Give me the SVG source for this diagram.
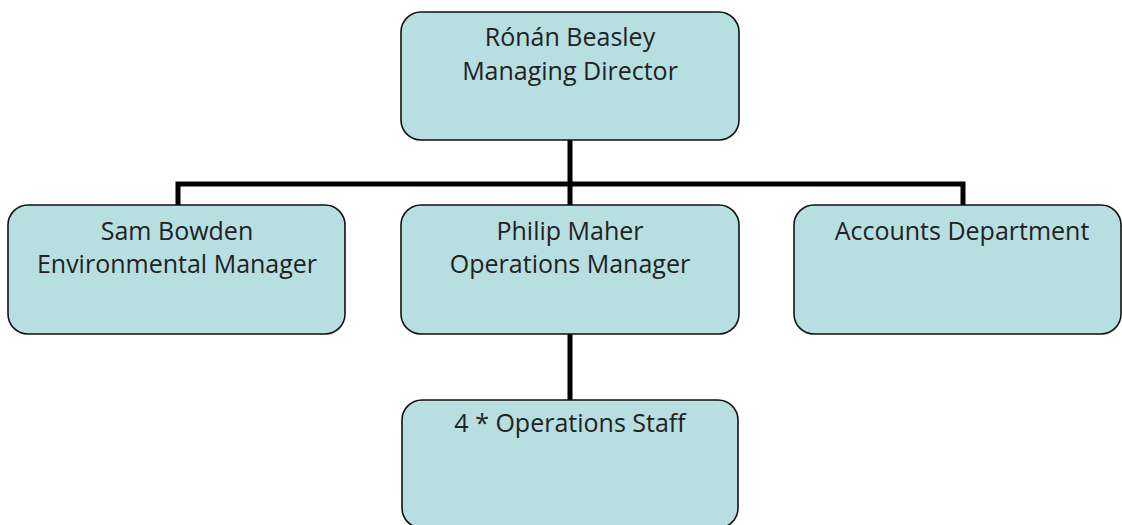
<svg xmlns="http://www.w3.org/2000/svg" width="1122" height="525" viewBox="0 0 1122 525">
  <style>
    .box { fill: #b7dfe1; stroke: #111; stroke-width: 1.6; }
    .lbl { font-family: "Open Sans", "Liberation Sans", sans-serif; font-size: 25px; fill: #222; text-anchor: middle; }
    .wire { fill: none; stroke: #000; stroke-width: 5; }
  </style>
  <rect width="1122" height="525" fill="#fff"/>
  <g id="connectors">
    <path class="wire" d="M570 140 V184"/>
    <path class="wire" d="M178 205 V184 H963 V205"/>
    <path class="wire" d="M570 184 V205"/>
    <path class="wire" d="M570 334 V400"/>
  </g>
  <g id="node-director">
    <rect class="box" x="401" y="12" width="338" height="128" rx="20"/>
    <text class="lbl" x="570" y="46">Rónán Beasley</text>
    <text class="lbl" x="570" y="80">Managing Director</text>
  </g>
  <g id="node-environmental">
    <rect class="box" x="8" y="205" width="337" height="129" rx="20"/>
    <text class="lbl" x="177" y="240">Sam Bowden</text>
    <text class="lbl" x="177" y="273">Environmental Manager</text>
  </g>
  <g id="node-operations">
    <rect class="box" x="401" y="205" width="338" height="129" rx="20"/>
    <text class="lbl" x="570" y="240">Philip Maher</text>
    <text class="lbl" x="570" y="273">Operations Manager</text>
  </g>
  <g id="node-accounts">
    <rect class="box" x="794" y="205" width="327" height="129" rx="20"/>
    <text class="lbl" x="962" y="240">Accounts Department</text>
  </g>
  <g id="node-staff">
    <rect class="box" x="402" y="400" width="336" height="128" rx="20"/>
    <text class="lbl" x="570" y="432">4 * Operations Staff</text>
  </g>
</svg>
